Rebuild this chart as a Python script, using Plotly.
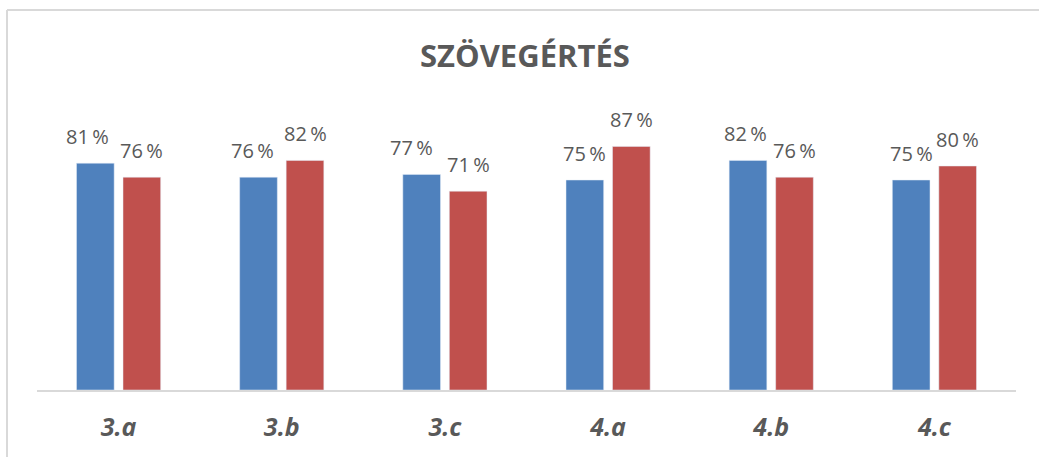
import plotly.graph_objects as go

categories = ["3.a", "3.b", "3.c", "4.a", "4.b", "4.c"]
series_blue = [0.81, 0.76, 0.77, 0.75, 0.82, 0.75]
series_red = [0.76, 0.82, 0.71, 0.87, 0.76, 0.80]
title_text = "SZÖVEGÉRTÉS"

# label nudges (px) as placed in the reference to avoid overlaps
blue_label_dx = [-8, -6, -10, 0, -2, 0]
red_label_dx = [0, 0, 0, 0, 0, 0]

BLUE = "#4F81BD"
RED = "#C0504D"
TEXT = "#595959"
GRID = "#D9D9D9"

W, H = 1039, 457
ML, MR, MT, MB = 37, 23, 110, 67
plot_w = W - ML - MR
plot_h = H - MT - MB
bargap = 0.43
bargroupgap = 0.19
slot_px = plot_w / len(categories) * (1 - bargap) / 2

fig = go.Figure()
fig.add_trace(go.Bar(x=categories, y=series_blue, marker_color=BLUE, name="A"))
fig.add_trace(go.Bar(x=categories, y=series_red, marker_color=RED, name="B"))

annotations = []
for vals, sign, dxs in ((series_blue, -1, blue_label_dx), (series_red, 1, red_label_dx)):
    for c, v, dx in zip(categories, vals, dxs):
        annotations.append(dict(
            x=c, y=v, xref="x", yref="y", text=f"{round(v*100)}\u2009%",
            showarrow=False, yanchor="bottom", xanchor="center",
            xshift=sign * slot_px / 2 + dx, yshift=11,
            font=dict(family="Open Sans", size=20, color=TEXT)))

annotations.append(dict(
    x=0.5, y=(H - MB - 55) / plot_h, xref="paper", yref="paper",
    text=f"<b>{title_text}</b>", showarrow=False, yanchor="middle",
    xshift=-2,
    font=dict(family="Open Sans", size=31, color=TEXT)))

def px_x(p):
    return (p - ML) / plot_w

def px_y(p):
    return (H - MB - p) / plot_h

shapes = [
    dict(type="line", xref="paper", yref="paper", x0=px_x(7), x1=px_x(1050),
         y0=px_y(10), y1=px_y(10), line=dict(color=GRID, width=2)),
    dict(type="line", xref="paper", yref="paper", x0=px_x(7), x1=px_x(7),
         y0=px_y(10), y1=px_y(470), line=dict(color=GRID, width=2)),
]

fig.update_layout(
    width=W, height=H,
    margin=dict(l=ML, r=MR, t=MT, b=MB),
    paper_bgcolor="white", plot_bgcolor="white",
    barmode="group", bargap=bargap, bargroupgap=bargroupgap,
    showlegend=False,
    annotations=annotations, shapes=shapes,
    xaxis=dict(showline=True, linecolor=GRID, linewidth=2, ticks="",
               ticklabelstandoff=14,
               tickfont=dict(family="Open Sans", size=25, color=TEXT),
               tickvals=categories,
               ticktext=[f"<b><i>{c}</i></b>" for c in categories]),
    yaxis=dict(range=[0, 1], visible=False, showgrid=False),
)

fig.write_html(
    "out.html",
    config={"displayModeBar": False},
    post_script="document.body.style.margin='0';document.body.style.overflow='hidden';",
)
